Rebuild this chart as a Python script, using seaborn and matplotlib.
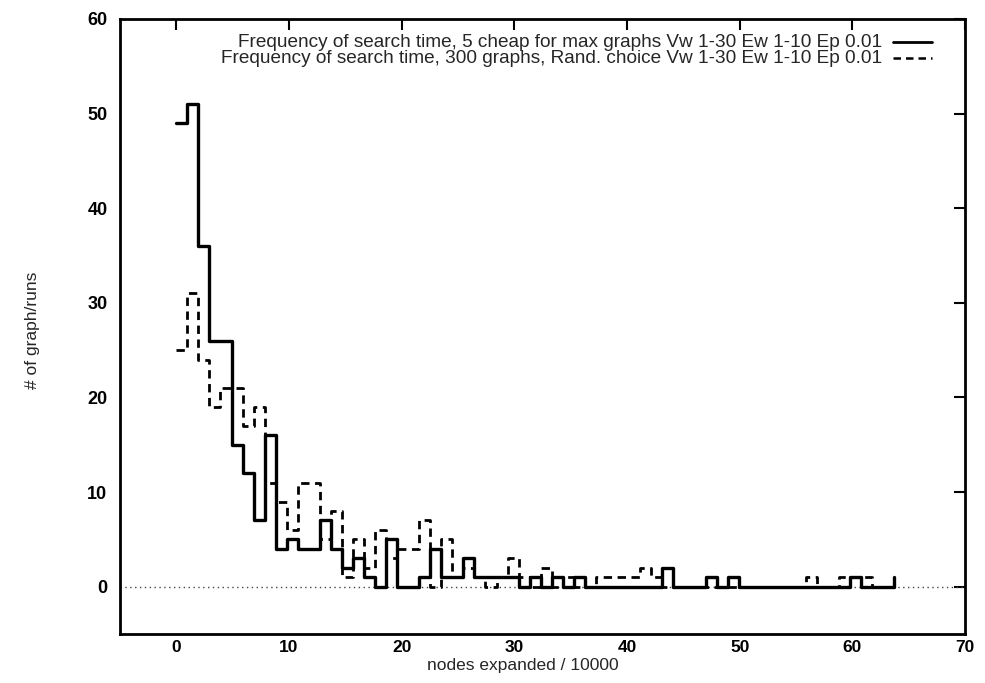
import numpy as np
import pandas as pd
import matplotlib
matplotlib.use("Agg")
import matplotlib.pyplot as plt
from matplotlib.lines import Line2D
import seaborn as sns

# ---- data ----
bin_width = 0.98  # nodes expanded / 10000 per bin
solid_counts = [49, 51, 36, 26, 26, 15, 12, 7, 16, 4,
                5, 4, 4, 7, 4, 2, 3, 1, 0, 5,
                0, 0, 1, 4, 1, 1, 3, 1, 1, 1,
                1, 0, 1, 0, 1, 0, 1, 0, 0, 0,
                0, 0, 0, 0, 2, 0, 0, 0, 1, 0,
                1, 0, 0, 0, 0, 0, 0, 0, 0, 0,
                0, 1, 0, 0, 0, 1]
dashed_counts = [25, 31, 24, 19, 21, 21, 17, 19, 11, 9,
                 6, 11, 11, 5, 8, 1, 5, 2, 6, 3,
                 4, 4, 7, 0, 5, 1, 2, 1, 0, 1,
                 3, 1, 0, 2, 0, 1, 0, 0, 1, 1,
                 1, 1, 2, 1, 0, 0, 0, 0, 0, 0,
                 0, 0, 0, 0, 0, 0, 0, 1, 0, 0,
                 1, 1, 1, 0, 0, 0]
label_solid = "Frequency of search time, 5 cheap for max graphs Vw 1-30 Ew 1-10 Ep 0.01"
label_dashed = "Frequency of search time, 300 graphs, Rand. choice Vw 1-30 Ew 1-10 Ep 0.01"
x_ticks = [0, 10, 20, 30, 40, 50, 60, 70]
y_ticks = [0, 10, 20, 30, 40, 50, 60]

df_solid = pd.DataFrame({"x": np.arange(len(solid_counts)) * bin_width, "y": solid_counts})
df_dashed = pd.DataFrame({"x": np.arange(len(dashed_counts)) * bin_width, "y": dashed_counts})

sns.set_theme(style="white")
plt.rcParams["font.family"] = ["Liberation Sans", "DejaVu Sans"]

fig = plt.figure(figsize=(9.85, 6.83), dpi=100)
ax = fig.add_axes([120 / 985, 1 - 634 / 683, 845 / 985, 615 / 683])

ax.axhline(0, color="#444444", lw=1.0, ls=(0, (1, 2.5)), zorder=1)

sns.lineplot(data=df_dashed, x="x", y="y", ax=ax, estimator=None, sort=False,
             color="black", lw=2.0, drawstyle="steps-post", linestyle=(0, (3, 2)), zorder=3)
sns.lineplot(data=df_solid, x="x", y="y", ax=ax, estimator=None, sort=False,
             color="black", lw=2.4, drawstyle="steps-post", zorder=4)

ax.set_xlim(-5, 70)
ax.set_ylim(-5, 60)
ax.set_xticks(x_ticks)
ax.set_yticks(y_ticks)
ax.tick_params(direction="in", top=True, right=True, length=8, width=1.5,
               labelsize=13, colors="black")
ax.tick_params(axis="x", pad=4, labelsize=12.5)
ax.tick_params(axis="y", pad=9)
for lab in ax.get_xticklabels() + ax.get_yticklabels():
    lab.set_fontweight("bold")
for s in ax.spines.values():
    s.set_visible(True)
    s.set_color("black")
    s.set_linewidth(2)

ax.set_xlabel("nodes expanded / 10000", fontsize=12.5)
ax.set_ylabel("# of graph/runs", fontsize=12.5)
ax.xaxis.set_label_coords(0.477, -0.051)
ax.xaxis.label.set_va("center")
ax.yaxis.set_label_coords(-0.104, 0.494)
ax.yaxis.label.set_va("center")

# legend (gnuplot style: right-aligned text with line sample on the right)
ax.text(0.902, 0.961, label_solid, transform=ax.transAxes, ha="right", va="center", fontsize=13.7)
ax.text(0.902, 0.935, label_dashed, transform=ax.transAxes, ha="right", va="center", fontsize=13.7)
ax.add_line(Line2D([0.915, 0.961], [0.963, 0.963], transform=ax.transAxes, color="black", lw=2.0))
ax.add_line(Line2D([0.915, 0.961], [0.937, 0.937], transform=ax.transAxes, color="black", lw=1.8,
                   ls=(0, (3, 2))))

fig.savefig("out.png", dpi=100)
